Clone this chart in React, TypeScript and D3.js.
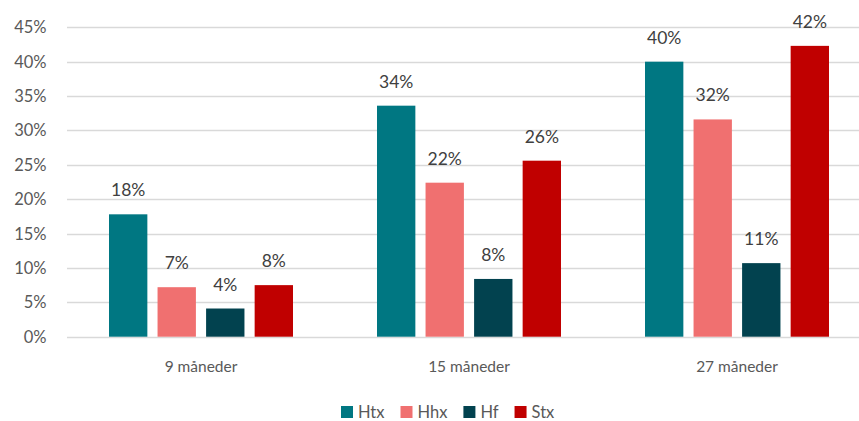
import { useEffect, useRef } from "react";
import * as d3 from "d3";

const categories = ["9 måneder", "15 måneder", "27 måneder"];
const seriesNames = ["Htx", "Hhx", "Hf", "Stx"];
const seriesColors = ["#007782", "#F07070", "#02424F", "#C00000"];
const htx = [17.8, 33.6, 40.0];
const hhx = [7.2, 22.4, 31.6];
const hf = [4.1, 8.4, 10.7];
const stx = [7.5, 25.6, 42.3];
const valueLabels = [
  ["18%", "34%", "40%"],
  ["7%", "22%", "32%"],
  ["4%", "8%", "11%"],
  ["8%", "26%", "42%"],
];
const yTicks = [0, 5, 10, 15, 20, 25, 30, 35, 40, 45];

const W = 859;
const H = 421;
const FONT = "Lato, 'Open Sans', sans-serif";
const TEXT = "#595959";

export default function App() {
  const svgRef = useRef<SVGSVGElement>(null);

  useEffect(() => {
    document.body.style.margin = "0";
    const el = svgRef.current;
    if (!el) return;
    const svg = d3.select(el);
    svg.selectAll("*").remove();

    const values = [htx, hhx, hf, stx];
    const left = 67;
    const plotRight = 871; // plot area runs past the right edge
    const top = 27.3;
    const bottom = 336.7;

    const y = d3.scaleLinear().domain([0, 45]).range([bottom, top]);
    const x0 = d3.scaleBand<string>().domain(categories).range([left, plotRight]);
    const x1 = d3
      .scaleBand<string>()
      .domain(seriesNames)
      .range([42, x0.bandwidth() - 42])
      .paddingInner(0.21);

    // grid
    svg
      .append("g")
      .selectAll("line")
      .data(yTicks)
      .join("line")
      .attr("x1", left)
      .attr("x2", W)
      .attr("y1", (d) => Math.round(y(d)) + 0.5)
      .attr("y2", (d) => Math.round(y(d)) + 0.5)
      .attr("stroke", "#D9D9D9")
      .attr("stroke-width", 1.3);

    // y labels
    svg
      .append("g")
      .selectAll("text")
      .data(yTicks)
      .join("text")
      .attr("x", 46.5)
      .attr("y", (d) => y(d))
      .attr("dy", "0.36em")
      .attr("text-anchor", "end")
      .attr("font-family", FONT)
      .attr("font-size", 16.5)
      .attr("fill", TEXT)
      .text((d) => `${d}%`);

    // bars
    const groups = svg
      .append("g")
      .selectAll("g")
      .data(seriesNames)
      .join("g")
      .attr("fill", (_, i) => seriesColors[i]);

    groups
      .selectAll("rect")
      .data((s, si) => categories.map((c, ci) => ({ c, s, v: values[si][ci] })))
      .join("rect")
      .attr("x", (d) => x0(d.c)! + x1(d.s)!)
      .attr("width", x1.bandwidth())
      .attr("y", (d) => y(d.v))
      .attr("height", (d) => bottom - y(d.v));

    // value labels
    svg
      .append("g")
      .selectAll("text")
      .data(
        seriesNames.flatMap((s, si) =>
          categories.map((c, ci) => ({ c, s, v: values[si][ci], label: valueLabels[si][ci] }))
        )
      )
      .join("text")
      .attr("x", (d) => x0(d.c)! + x1(d.s)! + x1.bandwidth() / 2)
      .attr("y", (d) => y(d.v) - 18)
      .attr("text-anchor", "middle")
      .attr("font-family", FONT)
      .attr("font-size", 17.5)
      .attr("fill", "#404040")
      .text((d) => d.label);

    // x labels
    svg
      .append("g")
      .selectAll("text")
      .data(categories)
      .join("text")
      .attr("x", (d) => x0(d)! + x0.bandwidth() / 2)
      .attr("y", 371.5)
      .attr("text-anchor", "middle")
      .attr("font-family", FONT)
      .attr("font-size", 15.5)
      .attr("fill", TEXT)
      .text((d) => d);

    // legend
    const items = svg.append("g").selectAll("g").data(seriesNames).join("g");
    items
      .append("rect")
      .attr("width", 12)
      .attr("height", 12)
      .attr("y", 406)
      .attr("fill", (_, i) => seriesColors[i]);
    const texts = items
      .append("text")
      .attr("x", 17)
      .attr("y", 417.5)
      .attr("font-family", FONT)
      .attr("font-size", 16.5)
      .attr("fill", TEXT)
      .text((d) => d);
    const widths: number[] = [];
    texts.each(function () {
      widths.push((this as SVGTextElement).getComputedTextLength());
    });
    let lx = 341;
    items.attr("transform", (_, i) => {
      const t = `translate(${lx},0)`;
      lx += 17 + widths[i] + 16;
      return t;
    });
  }, []);

  return <svg ref={svgRef} width={W} height={H} style={{ display: "block", background: "#fff" }} />;
}
